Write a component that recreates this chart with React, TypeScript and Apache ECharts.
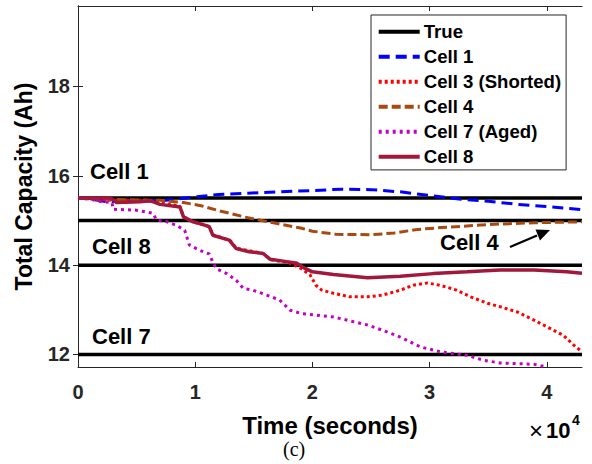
import React, { useEffect, useRef } from "react";
import * as echarts from "echarts";

// ---- data ----
const xRange = [0, 43000];
const trueLevels = [15.5, 15, 14, 12];
const xTicks = [0, 10000, 20000, 30000, 40000];
const yTicks = [12, 14, 16, 18];

const cell1: [number, number][] = [
  [0, 15.52], [2500, 15.42], [5000, 15.43], [7500, 15.45], [9800, 15.52],
  [12000, 15.58], [14500, 15.61], [17000, 15.64], [20000, 15.67], [22500, 15.7],
  [25000, 15.69], [27500, 15.64], [30000, 15.56], [32500, 15.48], [35000, 15.43],
  [37500, 15.36], [40000, 15.31], [43000, 15.24],
];

const cell3: [number, number][] = [
  [0, 15.5], [3000, 15.45], [6000, 15.45], [8700, 15.32], [9000, 15.08],
  [9800, 14.97], [11200, 14.86], [11500, 14.68], [13000, 14.55], [13500, 14.38],
  [15800, 14.26], [16400, 14.12], [18000, 14.05], [19000, 13.93], [19800, 13.78],
  [20300, 13.55], [20800, 13.44], [21800, 13.37], [23200, 13.29], [24700, 13.29],
  [26000, 13.33], [27500, 13.44], [28600, 13.55], [29800, 13.6], [30900, 13.55],
  [32300, 13.44], [33500, 13.29], [35000, 13.14], [36000, 13.07], [37500, 12.95],
  [38900, 12.77], [40000, 12.62], [41400, 12.43], [42300, 12.21], [43000, 12.06],
];

const cell4: [number, number][] = [
  [0, 15.5], [3000, 15.47], [7000, 15.45], [9000, 15.4], [10500, 15.33],
  [12000, 15.22], [14500, 15.06], [17000, 14.93], [19000, 14.83], [20000, 14.76],
  [22000, 14.69], [25000, 14.68], [27000, 14.72], [29000, 14.8], [31000, 14.84],
  [34000, 14.89], [36000, 14.92], [39000, 14.95], [43000, 14.97],
];

const cell7: [number, number][] = [
  [0, 15.5], [1000, 15.48], [2000, 15.42], [2900, 15.4], [3000, 15.25],
  [5000, 15.23], [6400, 15.16], [6700, 15.01], [7600, 14.97], [8400, 14.89],
  [9100, 14.78], [9500, 14.45], [10400, 14.33], [11200, 14.25], [11500, 14.07],
  [11800, 13.92], [12700, 13.81], [13500, 13.66], [14100, 13.48], [14900, 13.44],
  [16100, 13.33], [17200, 13.22], [18100, 12.99], [19000, 12.92], [21800, 12.84],
  [24700, 12.66], [26000, 12.54], [27500, 12.39], [29200, 12.17], [30900, 12.06],
  [33200, 11.98], [34600, 11.87], [36000, 11.81], [38900, 11.78], [40000, 11.72],
];

const cell8: [number, number][] = [
  [0, 15.5], [2800, 15.5], [3300, 15.4], [5300, 15.42], [6200, 15.44],
  [7000, 15.36], [8700, 15.3], [9000, 15.08], [9800, 14.97], [10400, 14.93],
  [11200, 14.86], [11500, 14.67], [12900, 14.56], [13500, 14.37], [14600, 14.3],
  [15800, 14.26], [16400, 14.13], [17500, 14.09], [18700, 14.04], [19200, 13.95],
  [20000, 13.85], [21800, 13.79], [24700, 13.72], [27500, 13.75], [30300, 13.81],
  [33200, 13.85], [36000, 13.89], [38900, 13.89], [41700, 13.85], [43000, 13.82],
];

const FONT = "'Liberation Sans', Arial, Helvetica, sans-serif";
const AX = "#262626";

export default function App() {
  const ref = useRef<HTMLDivElement>(null);

  useEffect(() => {
    document.body.style.margin = "0";
    if (!ref.current) return;
    const chart = echarts.init(ref.current, undefined, { renderer: "svg" });

    const trueSeries = trueLevels.map((lv) => ({
      name: "True",
      type: "line",
      data: [[xRange[0], lv], [xRange[1], lv]],
      showSymbol: false,
      symbol: "none",
      lineStyle: { color: "#000000", width: 3.5, type: "solid" },
      itemStyle: { color: "#000000" },
      silent: true,
      z: 2,
    }));

    const mk = (name: string, data: [number, number][], color: string, type: any, width = 3) => ({
      name,
      type: "line",
      data,
      showSymbol: false,
      symbol: "none",
      lineStyle: { color, width, type, cap: "butt" },
      itemStyle: { color },
      z: 3,
    });

    const option: any = {
      animation: false,
      backgroundColor: "#ffffff",
      grid: { left: 78, top: 6, right: 10, bottom: 97, containLabel: false },
      legend: {
        orient: "vertical",
        left: 371,
        top: 15,
        data: ["True", "Cell 1", "Cell 3 (Shorted)", "Cell 4", "Cell 7 (Aged)", "Cell 8"],
        itemWidth: 41,
        itemHeight: 14,
        itemGap: 6,
        padding: [7.3, 5, 3.6, 5.7],
        backgroundColor: "#ffffff",
        borderColor: AX,
        borderWidth: 1,
        itemStyle: { opacity: 0, borderWidth: 0 },
        lineStyle: { width: 4 },
        textStyle: { fontFamily: FONT, fontSize: 18.6, fontWeight: "bold", color: "#000000", padding: [0, 0, 0, -1] },
        selectedMode: false,
      },
      xAxis: [
        {
          type: "value",
          min: xRange[0],
          max: xRange[1],
          position: "bottom",
          name: "Time (seconds)",
          nameLocation: "middle",
          nameGap: 46,
          nameTextStyle: { fontFamily: FONT, fontSize: 24, fontWeight: "bold", color: "#000000" },
          axisLine: { show: true, lineStyle: { color: AX, width: 1 } },
          axisTick: { show: true, inside: true, length: 5, customValues: xTicks, lineStyle: { color: AX } },
          axisLabel: {
            customValues: xTicks,
            margin: 15,
            fontFamily: FONT,
            fontSize: 20,
            fontWeight: "bold",
            color: AX,
            formatter: (v: number) => String(v / 10000),
          },
          splitLine: { show: false },
        },
        {
          type: "value",
          min: xRange[0],
          max: xRange[1],
          position: "top",
          axisLine: { show: true, lineStyle: { color: AX, width: 1 } },
          axisTick: { show: true, inside: true, length: 5, customValues: xTicks, lineStyle: { color: AX } },
          axisLabel: { show: false },
          splitLine: { show: false },
        },
      ],
      yAxis: [
        {
          type: "value",
          min: 11.72,
          max: 19.8,
          position: "left",
          name: "Total Capacity (Ah)",
          nameLocation: "middle",
          nameGap: 43,
          nameTextStyle: { fontFamily: FONT, fontSize: 23, fontWeight: "bold", color: "#000000" },
          axisLine: { show: true, lineStyle: { color: AX, width: 1 } },
          axisTick: { show: true, inside: true, length: 5, customValues: yTicks, lineStyle: { color: AX } },
          axisLabel: {
            customValues: yTicks,
            margin: 8,
            fontFamily: FONT,
            fontSize: 20,
            fontWeight: "bold",
            color: AX,
          },
          splitLine: { show: false },
        },
        {
          type: "value",
          min: 11.72,
          max: 19.8,
          position: "right",
          axisLine: { show: true, lineStyle: { color: AX, width: 1 } },
          axisTick: { show: true, inside: true, length: 5, customValues: yTicks, lineStyle: { color: AX } },
          axisLabel: { show: false },
          splitLine: { show: false },
        },
      ],
      series: [
        ...trueSeries,
        mk("Cell 1", cell1, "#0000ff", [11, 6]),
        mk("Cell 3 (Shorted)", cell3, "#ff0000", [3, 3]),
        mk("Cell 4", cell4, "#a84a10", [9, 4]),
        mk("Cell 7 (Aged)", cell7, "#c400c4", [3, 4]),
        mk("Cell 8", cell8, "#a2183c", "solid", 3.5),
      ],
      graphic: [
        { type: "text", left: 90, top: 160, style: { text: "Cell 1", font: `bold 22px ${FONT}`, fill: "#000" } },
        { type: "text", left: 92, top: 235, style: { text: "Cell 8", font: `bold 22px ${FONT}`, fill: "#000" } },
        { type: "text", left: 92, top: 325, style: { text: "Cell 7", font: `bold 22px ${FONT}`, fill: "#000" } },
        { type: "text", left: 440, top: 231, style: { text: "Cell 4", font: `bold 22px ${FONT}`, fill: "#000" } },
        { type: "line", shape: { x1: 510, y1: 247, x2: 537, y2: 235.5 }, style: { stroke: "#000", lineWidth: 2.2 } },
        { type: "polygon", shape: { points: [[550, 230], [540, 240.5], [535.5, 229.5]] }, style: { fill: "#000" } },
        { type: "text", left: 529, top: 418, style: { text: "×", font: `24px ${FONT}`, fill: "#000" } },
        { type: "text", left: 546, top: 419, style: { text: "10", font: `bold 22px ${FONT}`, fill: "#000" } },
        { type: "text", left: 572, top: 413, style: { text: "4", font: `bold 14px ${FONT}`, fill: "#000" } },
        { type: "text", left: 283, top: 439, style: { text: "(c)", font: `20px 'Liberation Serif', 'Times New Roman', serif`, fill: "#000" } },
      ],
    };

    chart.setOption(option);
    return () => chart.dispose();
  }, []);

  return <div ref={ref} style={{ width: 592, height: 464 }} />;
}
